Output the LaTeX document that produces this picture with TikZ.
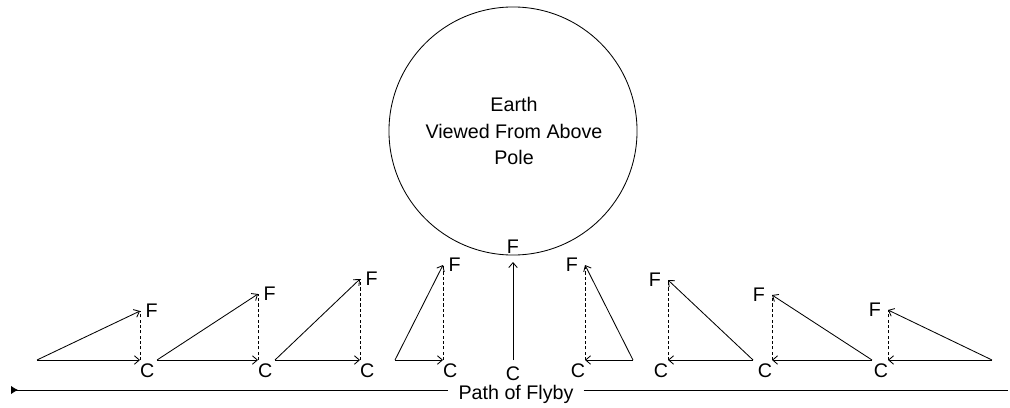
\documentclass[tikz,border=0pt]{standalone}
\usepackage{fontspec}
\setmainfont{Liberation Sans}
\usetikzlibrary{arrows.meta, positioning}

\begin{document}
\begin{tikzpicture}[
    x=0.025cm, y=-0.025cm,
    >={Straight Barb[length=3.5pt, width=6pt]},
    vec/.style={->, line width=0.6pt},
    proj/.style={line width=0.6pt, dash pattern=on 2.2pt off 1.6pt},
    lbl/.style={inner sep=0pt, outer sep=0pt},
    every node/.style={font=\fontsize{14}{19}\selectfont}
  ]
  \useasboundingbox (0,0) rectangle (1010,407);

  % Earth
  \node[circle, draw, line width=0.6pt, minimum size=6.2cm, inner sep=0pt] (earth) at (513,131) {};
  \node[align=center] (earthtext) at (514,131) {Earth\\Viewed From Above\\Pole};

  % Left side
  \coordinate (s1) at (37,360);  \coordinate (c1) at (140,360); \coordinate (f1) at (140,311);
  \coordinate (s2) at (157,360); \coordinate (c2) at (258,360); \coordinate (f2) at (258,294);
  \coordinate (s3) at (275,360); \coordinate (c3) at (360,360); \coordinate (f3) at (360,279);
  \coordinate (s4) at (395,360); \coordinate (c4) at (443,360); \coordinate (f4) at (443,265);

  \draw[vec] (s1) -- (c1); \draw[vec] (s1) -- (f1); \draw[proj] (c1) -- (f1);
  \draw[vec] (s2) -- (c2); \draw[vec] (s2) -- (f2); \draw[proj] (c2) -- (f2);
  \draw[vec] (s3) -- (c3); \draw[vec] (s3) -- (f3); \draw[proj] (c3) -- (f3);
  \draw[vec] (s4) -- (c4); \draw[vec] (s4) -- (f4); \draw[proj] (c4) -- (f4);

  \node[lbl, below right=3pt and 0pt of c1] (C1) {C}; \node[lbl, right=4pt of f1] (F1) {F};
  \node[lbl, below right=3pt and 0pt of c2] (C2) {C}; \node[lbl, right=4pt of f2] (F2) {F};
  \node[lbl, below right=3pt and 0pt of c3] (C3) {C}; \node[lbl, right=4pt of f3] (F3) {F};
  \node[lbl, below right=3pt and 0pt of c4] (C4) {C}; \node[lbl, right=4pt of f4] (F4) {F};

  % Closest approach
  \coordinate (c5) at (513,360); \coordinate (f5) at (513,262);
  \draw[vec] (c5) -- (f5);
  \node[lbl, below=5pt of c5] (C5) {C};
  \node[lbl, above=6pt of f5] (F5) {F};

  % Right side
  \coordinate (s6) at (633,360); \coordinate (c6) at (585,360); \coordinate (f6) at (585,265);
  \coordinate (s7) at (753,360); \coordinate (c7) at (668,360); \coordinate (f7) at (668,280);
  \coordinate (s8) at (872,360); \coordinate (c8) at (772,360); \coordinate (f8) at (772,295);
  \coordinate (s9) at (992,360); \coordinate (c9) at (888,360); \coordinate (f9) at (888,310);

  \draw[vec] (s6) -- (c6); \draw[vec] (s6) -- (f6); \draw[proj] (c6) -- (f6);
  \draw[vec] (s7) -- (c7); \draw[vec] (s7) -- (f7); \draw[proj] (c7) -- (f7);
  \draw[vec] (s8) -- (c8); \draw[vec] (s8) -- (f8); \draw[proj] (c8) -- (f8);
  \draw[vec] (s9) -- (c9); \draw[vec] (s9) -- (f9); \draw[proj] (c9) -- (f9);

  \node[lbl, below left=3pt and 0pt of c6] (C6) {C}; \node[lbl, left=5pt of f6] (F6) {F};
  \node[lbl, below left=3pt and 0pt of c7] (C7) {C}; \node[lbl, left=5pt of f7] (F7) {F};
  \node[lbl, below left=3pt and 0pt of c8] (C8) {C}; \node[lbl, left=5pt of f8] (F8) {F};
  \node[lbl, below left=3pt and 0pt of c9] (C9) {C}; \node[lbl, left=5pt of f9] (F9) {F};

  % Path
  \coordinate (p0) at (11,390); \coordinate (p1) at (1008,390);
  \node[inner sep=7pt] (path) at (516,394) {Path of Flyby};
  \draw[line width=0.6pt, {Latex[reversed, length=5pt, width=6pt]}-] (p0) -- (p0 -| path.west);
  \draw[line width=0.6pt] (path.east |- p1) -- (p1);
\end{tikzpicture}
\end{document}
